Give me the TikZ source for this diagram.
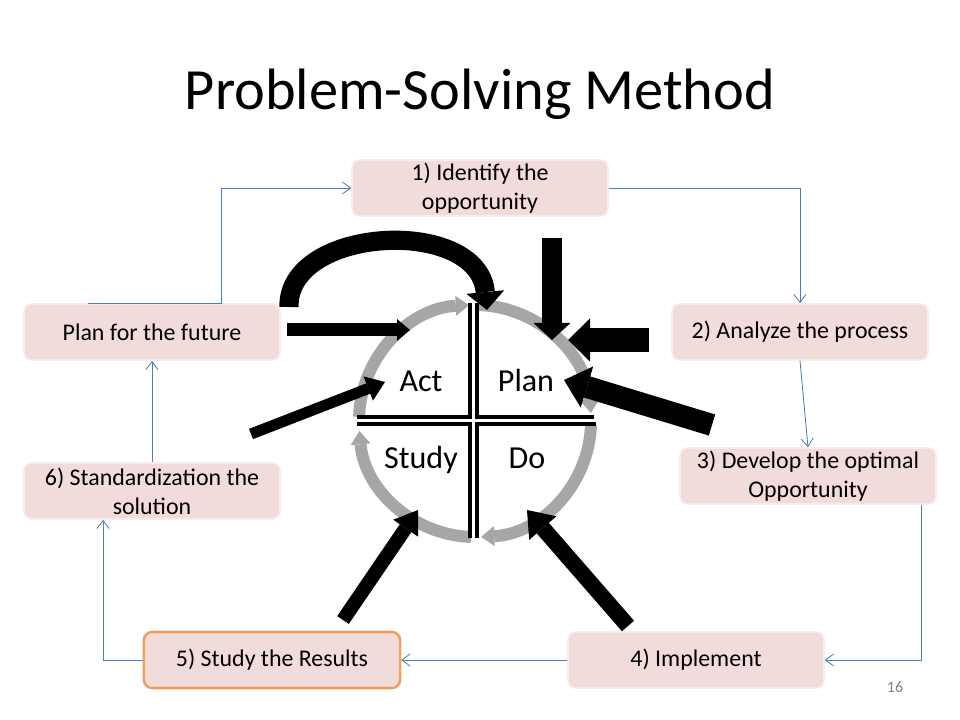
\documentclass[tikz,border=0pt]{standalone}
\usepackage{fontspec}
\setmainfont{Carlito}
\usetikzlibrary{arrows.meta,calc,positioning}
\definecolor{boxpink}{HTML}{F2DCDB}
\definecolor{boxrim}{HTML}{F8ECEB}
\definecolor{rimorange}{HTML}{EE9F62}
\definecolor{linkblue}{HTML}{4A7EBB}
\definecolor{ringgray}{HTML}{A6A6A6}
\tikzset{
stage/.style = {draw=boxrim, line width=1.2pt, fill=boxpink, rounded corners=0.2cm, minimum width=6.4cm, minimum height=1.4cm, inner sep=0pt, align=center, font=\fontsize{17}{20.6}\selectfont},
stagehot/.style = {stage, draw=rimorange, line width=1.8pt},
link/.style = {draw=linkblue, line width=0.6pt, -{Straight Barb[length=0.2cm,width=0.3cm]}},
ring/.style = {draw=ringgray, line width=0.3cm, -{Triangle[length=0.33cm,width=0.5cm,line width=0pt]}},
push/.style n args = {3}{draw=black, line width=#1, -{Triangle[length=#2,width=#3,line width=0pt]}},
quad/.style = {draw=black, line width=2.2pt},
word/.style = {anchor=base, font=\fontsize{22.8}{27}\selectfont}
}
\begin{document}
\begin{tikzpicture}[x=0.025cm, y=-0.025cm]

                \useasboundingbox [fill=white] (0,0) rectangle (960,720);
                \node [anchor=base, font=\fontsize{41.5}{48}\selectfont] (title) at (480,110) {Problem-Solving Method};
                \node [stage] (ident) at (480,188) {1) Identify the\\opportunity};
                \node [stage] (future) at (152,332) {Plan for the future};
                \node [stage] (analyze) at (800,332) {2) Analyze the process};
                \node [stage] (develop) at (808,476) {3) Develop the optimal\\Opportunity};
                \node [stage] (standard) at (152,491) {6) Standardization the\\solution};
                \node [stagehot] (results) at (272,660) {5) Study the Results};
                \node [stage] (implement) at (696,660) {4) Implement};
                \node [font=\fontsize{11.4}{13}\selectfont, text=gray] (page) at (895,687) {16};
                \draw [link] ($(future.north west)!0.25!(future.north east)$) -- ($(future.north west)!0.77!(future.north east)$) |- (ident.west);
                \draw [link] (ident.east) -| (analyze.north);
                \draw [link] (analyze.south) -- (develop.north);
                \draw [link] ($(develop.south west)!0.94!(develop.south east)$) |- (implement.east);
                \draw [link] (implement.west) -- (results.east);
                \draw [link] (results.west) -| ($(standard.south west)!0.31!(standard.south east)$);
                \draw [link] (standard.north) -- (future.south);

                \coordinate (hub) at (475,421);
                \draw [ring] ([shift={(178:2.9cm)}]hub) arc [start angle=178, end angle=93, radius=2.9cm];
                \draw [ring] ([shift={(88:2.9cm)}]hub) arc [start angle=88, end angle=4, radius=2.9cm];
                \draw [ring] ([shift={(-2:2.9cm)}]hub) arc [start angle=-2, end angle=-87, radius=2.9cm];
                \draw [ring] ([shift={(268:2.9cm)}]hub) arc [start angle=268, end angle=185, radius=2.9cm];
                \draw [quad] (470,303) |- (357,417);
                \draw [quad] (477,303) |- (594,417);
                \draw [quad] (470,538) |- (357,424);
                \draw [quad] (477,538) |- (596,424);
                \node [word] (act) at (421,392) {Act};
                \node [word] (plan) at (526,392) {Plan};
                \node [word] (study) at (421,469) {Study};
                \node [word] (do) at (527,469) {Do};

                \coordinate (looptail) at (289,307);
                \coordinate (looptip) at (487,310);
                \coordinate (futtail) at (287,330);
                \coordinate (futtip) at (410,330);
                \coordinate (identtail) at (552,238);
                \coordinate (identtip) at (552,340);
                \coordinate (anatail) at (649,340);
                \coordinate (anatip) at (568,340);
                \coordinate (devtail) at (712,425);
                \coordinate (devtip) at (564,380);
                \coordinate (stdtail) at (251,434);
                \coordinate (stdtip) at (385,382);
                \coordinate (restail) at (343,620);
                \coordinate (restip) at (418,510);
                \coordinate (imptail) at (628,626);
                \coordinate (imptip) at (527,510);
                \draw [push={0.48cm}{0.45cm}{0.95cm}] (looptail) .. controls (287,226) and (478,216) .. (looptip);
                \draw [push={0.325cm}{0.325cm}{0.55cm}] (futtail) -- (futtip);
                \draw [push={0.5cm}{0.425cm}{0.925cm}] (identtail) -- (identtip);
                \draw [push={0.575cm}{0.55cm}{1.075cm}] (anatail) -- (anatip);
                \draw [push={0.55cm}{0.6cm}{1.075cm}] (devtail) -- (devtip);
                \draw [push={0.275cm}{0.45cm}{0.65cm}] (stdtail) -- (stdtip);
                \draw [push={0.35cm}{0.55cm}{0.75cm}] (restail) -- (restip);
                \draw [push={0.4cm}{0.6cm}{0.9cm}] (imptail) -- (imptip);
            \end{tikzpicture}
\end{document}
